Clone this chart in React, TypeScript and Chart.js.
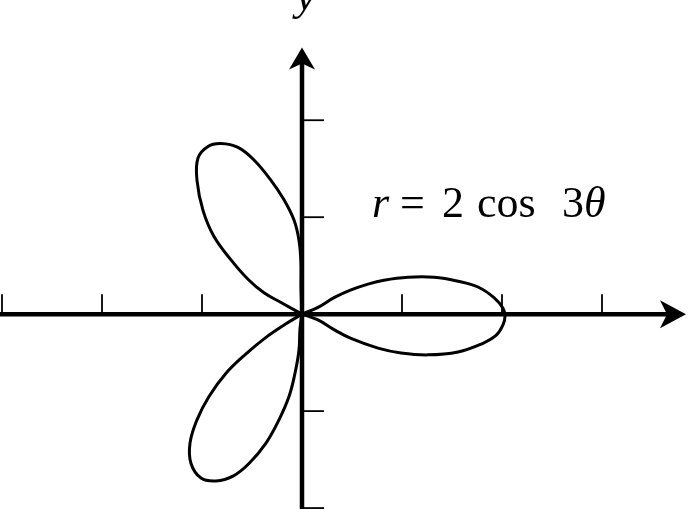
import React, { useEffect, useRef } from "react";
import { Chart, registerables } from "chart.js";

Chart.register(...registerables);

// Curve points (data units)
const rightLobe: [number, number][] = [
  [0, 0], [0.16, 0.07], [0.32, 0.17], [0.49, 0.25], [0.66, 0.31], [0.82, 0.35],
  [1.06, 0.38], [1.32, 0.38], [1.56, 0.34], [1.76, 0.28], [1.92, 0.17],
  [2.01, 0.06], [2.03, -0.02], [2.01, -0.11], [1.94, -0.22], [1.79, -0.31],
  [1.56, -0.39], [1.26, -0.42], [0.99, -0.4], [0.76, -0.35], [0.49, -0.25],
  [0.32, -0.16], [0.16, -0.06], [0, 0],
];
const upperLobe: [number, number][] = [
  [0, 0], [-0.21, 0.12], [-0.38, 0.22], [-0.54, 0.36], [-0.71, 0.56],
  [-0.88, 0.8], [-0.99, 1.07], [-1.05, 1.38], [-1.04, 1.61], [-0.94, 1.73],
  [-0.81, 1.76], [-0.64, 1.72], [-0.48, 1.59], [-0.31, 1.38], [-0.18, 1.18],
  [-0.08, 0.97], [-0.03, 0.76], [-0.01, 0.52], [-0.01, 0.28], [0, 0],
];
const lowerLobe: [number, number][] = [
  [0, 0], [-0.16, -0.1], [-0.36, -0.24], [-0.56, -0.41], [-0.76, -0.61],
  [-0.93, -0.85], [-1.05, -1.09], [-1.12, -1.33], [-1.11, -1.54], [-1.01, -1.69],
  [-0.86, -1.72], [-0.69, -1.67], [-0.53, -1.54], [-0.36, -1.33], [-0.23, -1.09],
  [-0.13, -0.85], [-0.07, -0.61], [-0.03, -0.37], [-0.02, -0.15], [0, 0],
];

const xTicks = [-3, -2, -1, 1, 2, 3];
const yTicks = [-2, -1, 1, 2];
const xRange = [-3.02, 3.86];
const yRange = [-2.02, 3.24];
const xAxisEnd = 3.84;
const yAxisEnd = 2.75;
const equationParts = ["r", "=", "2", "cos", "3", "θ"];
const equationAnchor = [0.7, 1.0];
const axisLabelY = "y";

const toPts = (arr: [number, number][]) => arr.map(([x, y]) => ({ x, y }));

const axesPlugin = {
  id: "axesPlugin",
  beforeDatasetsDraw(chart: any) {
    const { ctx } = chart;
    const xs = chart.scales.x;
    const ys = chart.scales.y;
    const ox = xs.getPixelForValue(0);
    const oy = ys.getPixelForValue(0);
    ctx.save();
    ctx.strokeStyle = "#000";
    ctx.fillStyle = "#000";
    ctx.lineCap = "butt";

    // x axis
    const xTip = xs.getPixelForValue(xAxisEnd);
    ctx.lineWidth = 4.5;
    ctx.beginPath();
    ctx.moveTo(xs.getPixelForValue(xRange[0]), oy);
    ctx.lineTo(xTip - 10, oy);
    ctx.stroke();
    ctx.beginPath();
    ctx.moveTo(xTip, oy);
    ctx.lineTo(xTip - 26, oy - 14);
    ctx.lineTo(xTip - 19, oy);
    ctx.lineTo(xTip - 26, oy + 14);
    ctx.closePath();
    ctx.fill();

    // y axis
    const yTip = ys.getPixelForValue(yAxisEnd);
    const yBottom = ys.getPixelForValue(yTicks[0]);
    ctx.lineWidth = 4.5;
    ctx.beginPath();
    ctx.moveTo(ox, yBottom + 1);
    ctx.lineTo(ox, yTip + 10);
    ctx.stroke();
    ctx.beginPath();
    ctx.moveTo(ox, yTip);
    ctx.lineTo(ox - 13, yTip + 22);
    ctx.lineTo(ox, yTip + 16);
    ctx.lineTo(ox + 13, yTip + 22);
    ctx.closePath();
    ctx.fill();

    // ticks
    ctx.lineWidth = 1.8;
    xTicks.forEach((v) => {
      const px = xs.getPixelForValue(v);
      ctx.beginPath();
      ctx.moveTo(px, oy);
      ctx.lineTo(px, oy - 20);
      ctx.stroke();
    });
    yTicks.forEach((v) => {
      const py = ys.getPixelForValue(v);
      ctx.beginPath();
      ctx.moveTo(ox, py);
      ctx.lineTo(ox + 22, py);
      ctx.stroke();
    });

    // equation label
    const ax = xs.getPixelForValue(equationAnchor[0]);
    const ay = ys.getPixelForValue(equationAnchor[1]);
    const offsets = [0, 28, 70, 105, 190, 212];
    const italic = [true, false, false, false, false, true];
    ctx.textBaseline = "alphabetic";
    ctx.textAlign = "left";
    equationParts.forEach((t, i) => {
      ctx.font = (italic[i] ? "italic " : "") + '44px "Liberation Serif", serif';
      ctx.fillText(t, ax + offsets[i], ay);
    });

    // y axis label (clipped at top)
    ctx.font = 'italic 44px "Liberation Serif", serif';
    ctx.fillText(axisLabelY, ox - 6, 10);
    ctx.restore();
  },
};

export default function App() {
  const ref = useRef<HTMLCanvasElement | null>(null);
  useEffect(() => {
    if (!ref.current) return;
    const ds = (data: [number, number][]) => ({
      data: toPts(data),
      showLine: true,
      borderColor: "#000",
      borderWidth: 3,
      pointRadius: 0,
      tension: 0.4,
      fill: false,
    });
    const chart = new Chart(ref.current, {
      type: "scatter",
      data: { datasets: [ds(rightLobe), ds(upperLobe), ds(lowerLobe)] },
      options: {
        animation: false,
        responsive: false,
        maintainAspectRatio: false,
        layout: { padding: 0 },
        plugins: { legend: { display: false }, tooltip: { enabled: false } },
        scales: {
          x: { type: "linear", min: xRange[0], max: xRange[1], display: false },
          y: { type: "linear", min: yRange[0], max: yRange[1], display: false },
        },
      },
      plugins: [axesPlugin],
    });
    return () => chart.destroy();
  }, []);
  return (
    <div style={{ position: "fixed", left: 0, top: 0, width: 688, height: 510, background: "#fff" }}>
      <canvas ref={ref} width={688} height={510} />
    </div>
  );
}
